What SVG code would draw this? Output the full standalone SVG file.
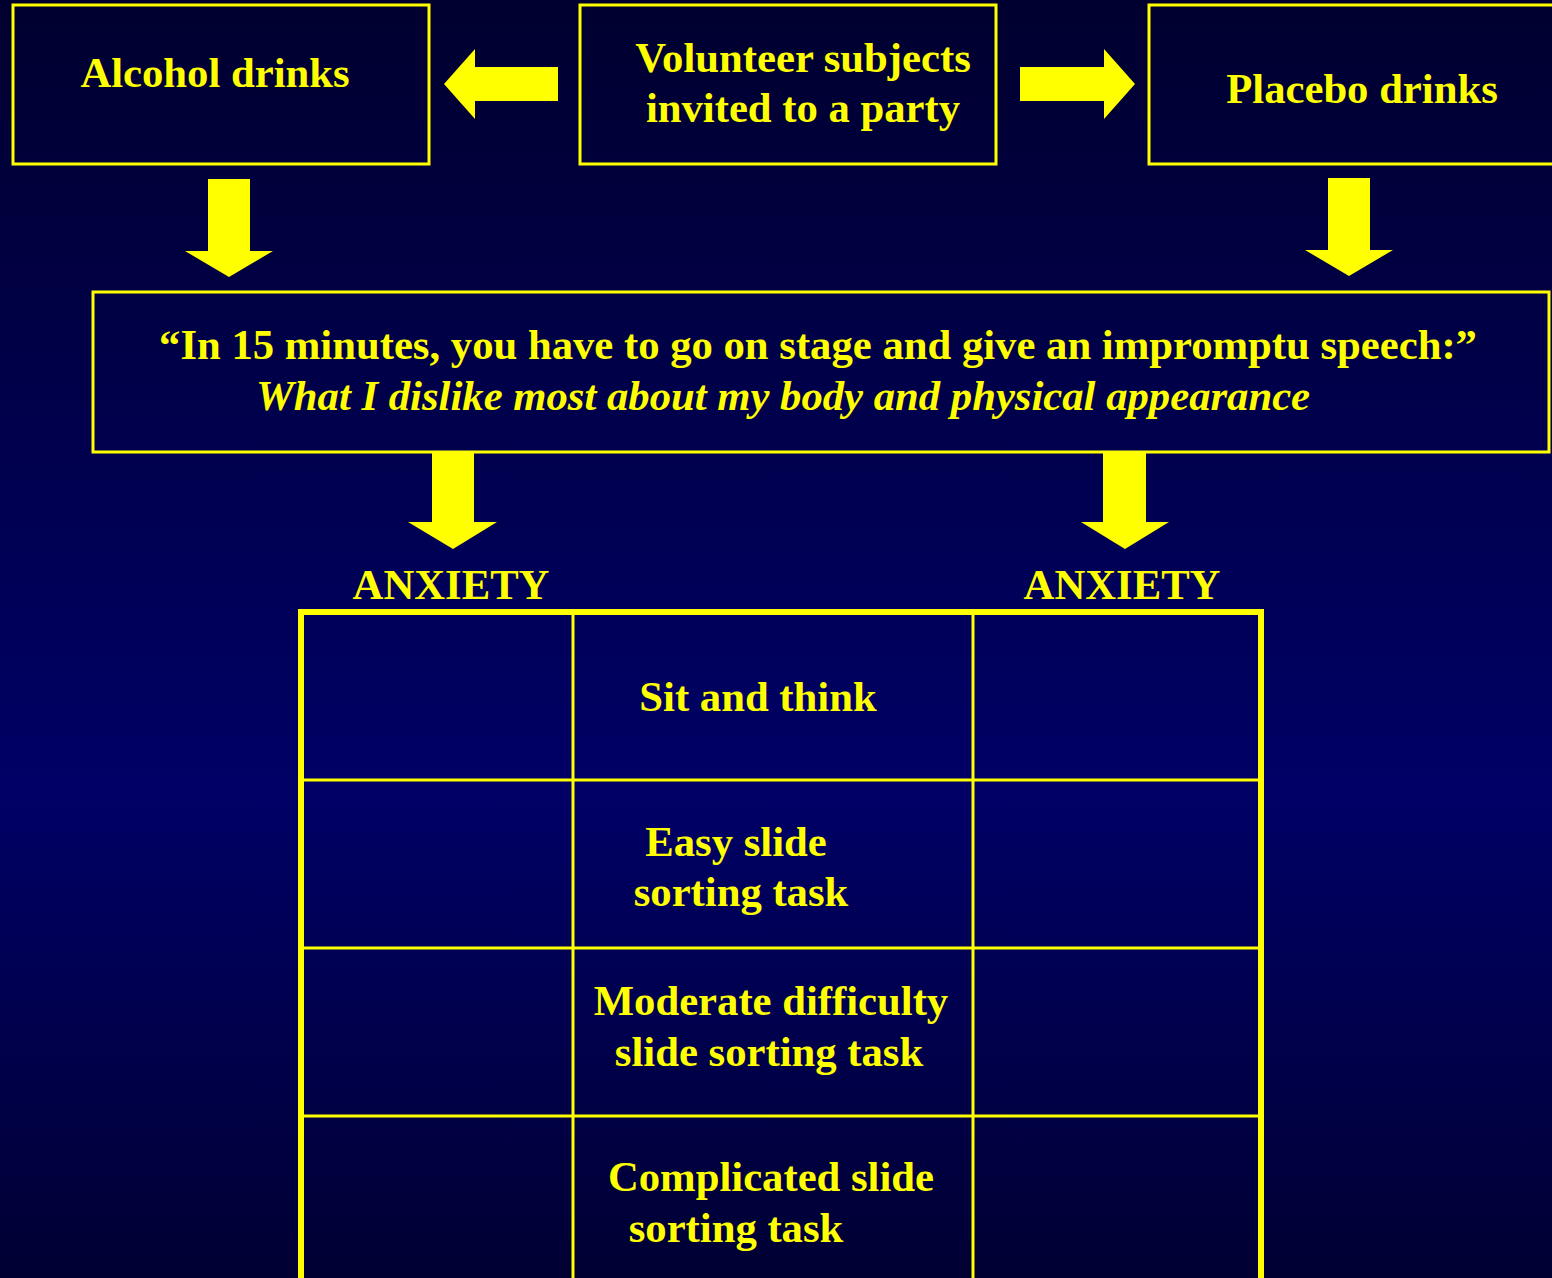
<svg xmlns="http://www.w3.org/2000/svg" width="1552" height="1278" viewBox="0 0 1552 1278">
<defs>
<linearGradient id="bg" x1="0" y1="0" x2="0" y2="1">
<stop offset="0" stop-color="#00002f"/>
<stop offset="0.62" stop-color="#000066"/>
<stop offset="1" stop-color="#000033"/>
</linearGradient>
<style>
.box{fill:none;stroke:#ffff00;stroke-width:3}
.arrow{fill:#ffff00}
.t{font-family:"Liberation Serif","Times New Roman",serif;font-weight:bold;font-size:42.7px;fill:#ffff00;text-anchor:middle}
.it{font-style:italic}
.grid{stroke:#ffff00;stroke-width:3}
.outer{fill:none;stroke:#ffff00;stroke-width:6}
</style>
</defs>
<rect x="0" y="0" width="1552" height="1278" fill="url(#bg)"/>

<g id="alcohol">
<rect class="box" x="13" y="5" width="416" height="159"/>
<text class="t" x="215" y="87">Alcohol drinks</text>
</g>
<g id="volunteer">
<rect class="box" x="580" y="5" width="416" height="159"/>
<text class="t" x="803" y="72">Volunteer subjects</text>
<text class="t" x="803" y="122">invited to a party</text>
</g>
<g id="placebo">
<rect class="box" x="1149" y="5" width="420" height="159"/>
<text class="t" x="1362" y="103">Placebo drinks</text>
</g>
<g id="instruction">
<rect class="box" x="93" y="292" width="1456" height="160"/>
<text class="t" x="818" y="359">“In 15 minutes, you have to go on stage and give an impromptu speech:”</text>
<text class="t it" x="783" y="410">What I dislike most about my body and physical appearance</text>
</g>
<g id="anxiety-left"><text class="t" x="451" y="599">ANXIETY</text></g>
<g id="anxiety-right"><text class="t" x="1122" y="599">ANXIETY</text></g>

<g id="table">
<line class="grid" x1="573" y1="612" x2="573" y2="1278"/>
<line class="grid" x1="973" y1="612" x2="973" y2="1278"/>
<line class="grid" x1="301" y1="780" x2="1261" y2="780"/>
<line class="grid" x1="301" y1="948" x2="1261" y2="948"/>
<line class="grid" x1="301" y1="1116" x2="1261" y2="1116"/>
<path class="outer" d="M301,1290 V612 H1261 V1290"/>
<text class="t" x="758" y="711">Sit and think</text>
<text class="t" x="736" y="856">Easy slide</text>
<text class="t" x="741" y="906">sorting task</text>
<text class="t" x="771" y="1015">Moderate difficulty</text>
<text class="t" x="769" y="1066">slide sorting task</text>
<text class="t" x="771" y="1191">Complicated slide</text>
<text class="t" x="736" y="1242">sorting task</text>
</g>

<g id="connectors">
<polygon class="arrow" points="558,67 475,67 475,49 444,84 475,119 475,101 558,101"/>
<polygon class="arrow" points="1020,67 1104,67 1104,49 1135,84 1104,119 1104,101 1020,101"/>
<polygon class="arrow" points="208,179 250,179 250,251 273,251 229,277 185,251 208,251"/>
<polygon class="arrow" points="1328,178 1370,178 1370,250 1393,250 1349,276 1305,250 1328,250"/>
<polygon class="arrow" points="432,452 474,452 474,522 497,522 453,549 408,522 432,522"/>
<polygon class="arrow" points="1103,452 1146,452 1146,522 1169,522 1125,549 1081,522 1103,522"/>
</g>
</svg>
